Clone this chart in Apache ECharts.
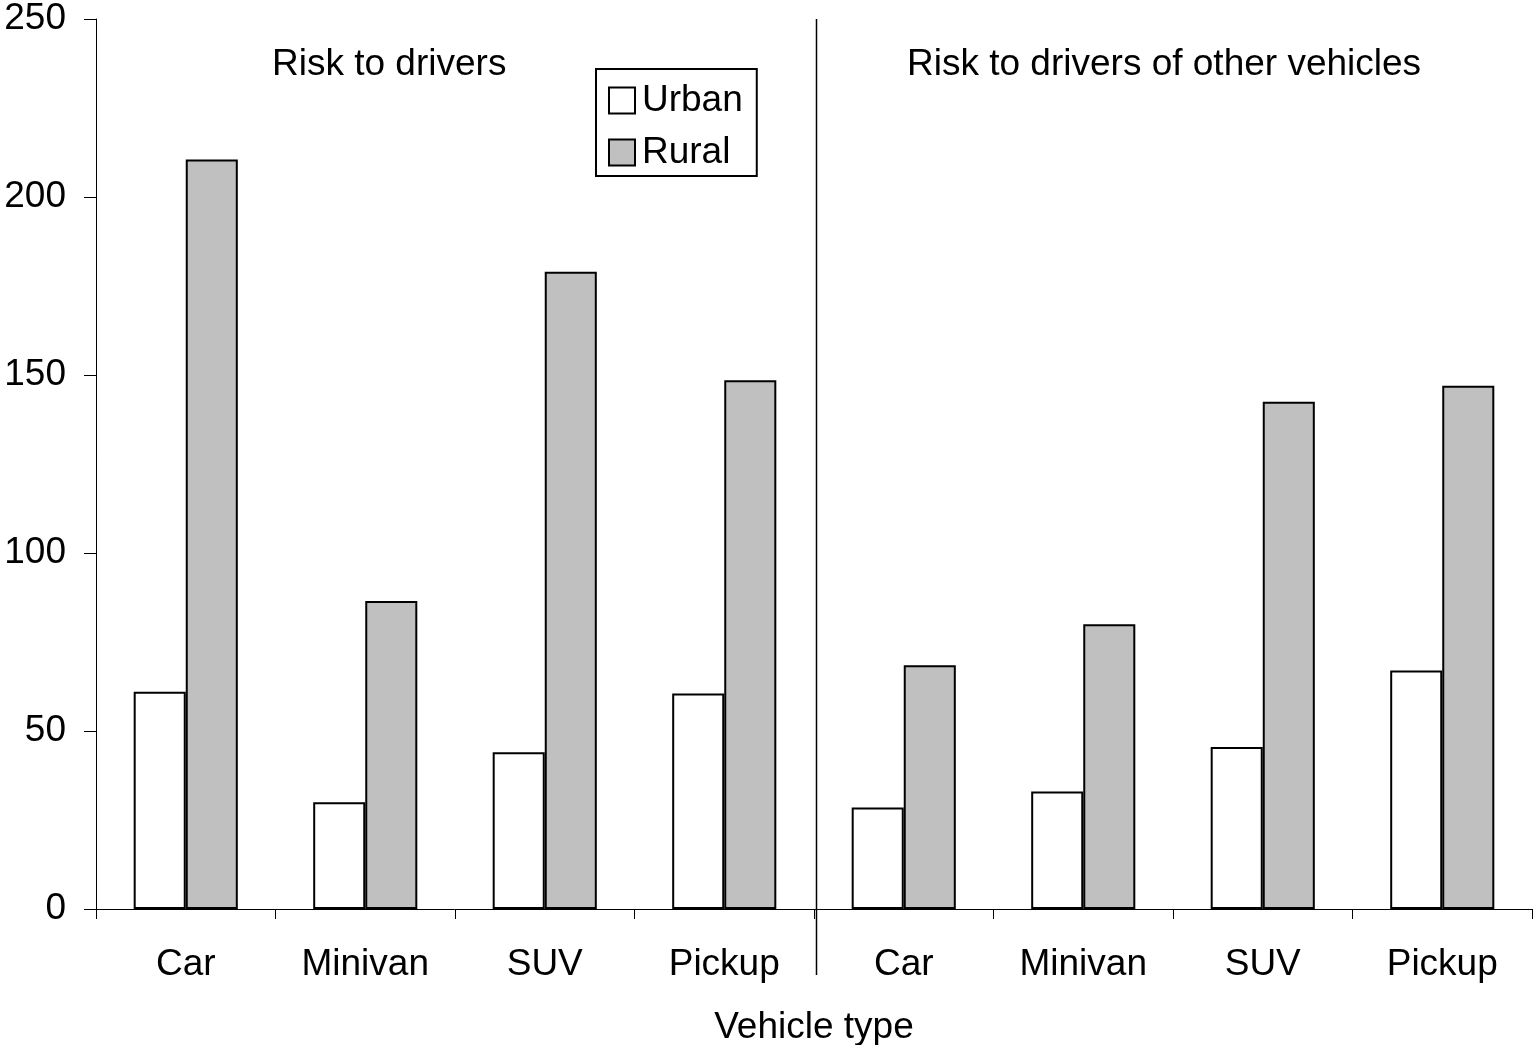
<!DOCTYPE html>
<html>
<head>
<meta charset="utf-8">
<script src="https://cdn.jsdelivr.net/npm/echarts@6/dist/echarts.min.js"></script>
<style>
  html, body { margin: 0; padding: 0; background: #fff; }
  #chart { width: 1535px; height: 1045px; }
</style>
</head>
<body>
<div id="chart"></div>
<script>
// data
const categories = ['Car', 'Minivan', 'SUV', 'Pickup', 'Car', 'Minivan', 'SUV', 'Pickup']
const urban = [61, 30, 44, 60.5, 28.5, 33, 45.5, 67]
const rural = [210.5, 86.5, 179, 148.5, 68.5, 80, 142.5, 147]
const groupTitles = ['Risk to drivers', 'Risk to drivers of other vehicles']
const yTicks = [0, 50, 100, 150, 200, 250]

const FONT = 'Liberation Sans, Arial, sans-serif'
const FS = 37

const chart = echarts.init(document.getElementById('chart'))

const option = {
  animation: false,
  backgroundColor: '#fff',
  textStyle: { fontFamily: FONT, color: '#000' },
  grid: { left: 96, right: 3, top: 19, bottom: 136, outerBoundsMode: 'none', containLabel: false },
  legend: {
    orient: 'vertical',
    left: 596,
    top: 69,
    padding: [13, 14, 5, 12],
    itemGap: 15,
    itemWidth: 26,
    itemHeight: 26,
    borderColor: '#000',
    borderWidth: 2,
    icon: 'rect',
    textStyle: { fontSize: FS, color: '#000', fontFamily: FONT, padding: [0, 0, 0, 2] },
    data: ['Urban', 'Rural']
  },
  xAxis: {
    type: 'category',
    data: categories,
    name: 'Vehicle type',
    nameLocation: 'middle',
    nameGap: 100,
    nameTextStyle: { fontSize: FS, color: '#000', fontFamily: FONT },
    axisLine: { lineStyle: { color: '#000', width: 1 } },
    axisTick: { show: true, length: 10, lineStyle: { color: '#000' } },
    axisLabel: { fontSize: FS, color: '#000', margin: 37, fontFamily: FONT },
    splitLine: { show: false }
  },
  yAxis: {
    type: 'value',
    min: yTicks[0],
    max: yTicks[yTicks.length - 1],
    interval: 50,
    axisLine: { show: true, lineStyle: { color: '#000', width: 1 } },
    axisTick: { show: true, length: 12, lineStyle: { color: '#000' } },
    axisLabel: { fontSize: FS, color: '#000', margin: 30, fontFamily: FONT, padding: [4, 0, 0, 0] },
    splitLine: { show: false }
  },
  series: [
    {
      name: 'Urban',
      type: 'bar',
      data: urban,
      barGap: '0%',
      barCategoryGap: '42%',
      itemStyle: { color: '#fff', borderColor: '#000', borderWidth: 2 }
    },
    {
      name: 'Rural',
      type: 'bar',
      data: rural,
      barGap: '0%',
      barCategoryGap: '42%',
      itemStyle: { color: '#c0c0c0', borderColor: '#000', borderWidth: 2 }
    }
  ]
}

chart.setOption(option)

// divider line between the two groups, placed from the axis scales
const x3 = chart.convertToPixel({ xAxisIndex: 0 }, 3)
const x4 = chart.convertToPixel({ xAxisIndex: 0 }, 4)
const yTop = chart.convertToPixel({ yAxisIndex: 0 }, 250)
const yZero = chart.convertToPixel({ yAxisIndex: 0 }, 0)
const xMid = Math.round((x3 + x4) / 2) + 2.5

chart.setOption({
  graphic: [
    {
      type: 'line',
      shape: { x1: xMid, y1: yTop, x2: xMid, y2: yZero + 66 },
      style: { stroke: '#000', lineWidth: 1.5 },
      silent: true
    },
    {
      type: 'text',
      x: 272,
      y: 65,
      style: { text: groupTitles[0], fontSize: FS, fontFamily: FONT, fill: '#000', align: 'left', verticalAlign: 'middle' }
    },
    {
      type: 'text',
      x: 907,
      y: 65,
      style: { text: groupTitles[1], fontSize: FS, fontFamily: FONT, fill: '#000', align: 'left', verticalAlign: 'middle' }
    }
  ]
})
</script>
</body>
</html>
